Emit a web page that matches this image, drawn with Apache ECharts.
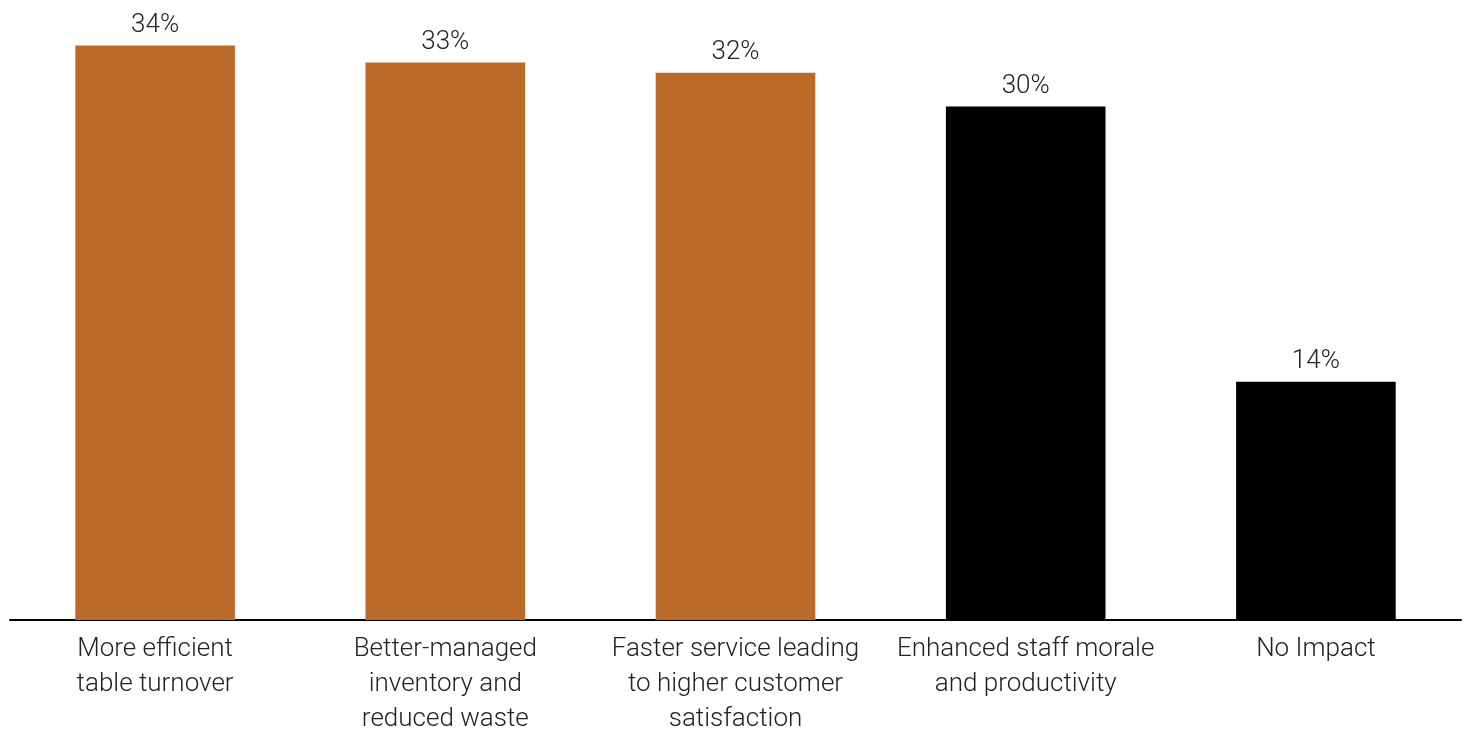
<!DOCTYPE html>
<html>
<head>
<meta charset="utf-8">
<script src="https://cdn.jsdelivr.net/npm/echarts@6/dist/echarts.min.js"></script>
<style>
html,body{margin:0;padding:0;background:#fff;}
#chart{width:1468px;height:729px;}
</style>
</head>
<body>
<div id="chart"></div>
<script>
var categories = ['More efficient\ntable turnover', 'Better-managed\ninventory and\nreduced waste', 'Faster service leading\nto higher customer\nsatisfaction', 'Enhanced staff morale\nand productivity', 'No Impact'];
var values = [34.0, 33.0, 32.4, 30.4, 14.1];
var barColors = ['#bc6a2a', '#bc6a2a', '#bc6a2a', '#000000', '#000000'];

var data = values.map(function(v, i){
	return { value: v, itemStyle: { color: barColors[i] } };
});

var option = {
	animation: false,
	grid: { left: 10, right: 7, top: 0, bottom: 109, outerBoundsMode: 'none', containLabel: false },
	xAxis: {
		type: 'category',
		data: categories,
		axisLine: { lineStyle: { color: '#000', width: 2 } },
		axisTick: { show: false },
		axisLabel: {
			color: '#222',
			fontFamily: 'Roboto',
			fontWeight: 300,
			fontSize: 26,
			lineHeight: 35,
			margin: 12,
			interval: 0
		}
	},
	yAxis: {
		type: 'value',
		min: 0,
		max: 36.7,
		show: false,
		splitLine: { show: false }
	},
	series: [{
		type: 'bar',
		barWidth: '55%',
		data: data,
		label: {
			show: true,
			position: 'top',
			distance: 7,
			color: '#222',
			fontFamily: 'Roboto',
			fontWeight: 300,
			fontSize: 26,
			formatter: function(p){ return Math.round(p.value) + '%'; }
		}
	}]
};

var myChart = echarts.init(document.getElementById('chart'));
myChart.setOption(option);
</script>
</body>
</html>
